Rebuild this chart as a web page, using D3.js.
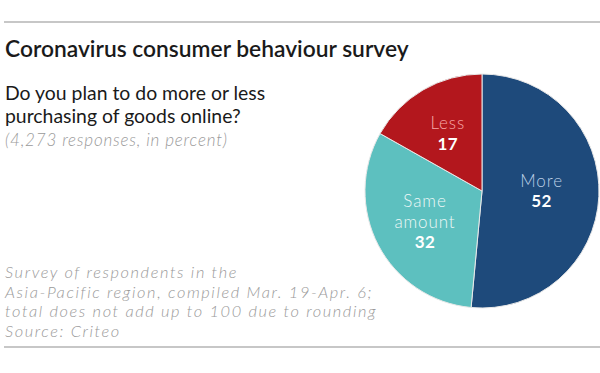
<!DOCTYPE html>
<html>
<head>
<meta charset="utf-8">
<script src="https://cdn.jsdelivr.net/npm/d3@7"></script>
<style>
  body { margin: 0; background: #fff; }
  svg text { font-family: Lato, "Noto Sans", sans-serif; }
</style>
</head>
<body>
<div id="chart"></div>
<script>
// answers and their share (percent, total 101 due to rounding)
var categories = ["More", "Same amount", "Less"];
var values = [52, 32, 17];
var sliceColors = ["#1e4a7b", "#5dc0bf", "#b3171d"];
var nameColors = ["#bccfe6", "#eef8f7", "#f7a9a9"];

var title = "Coronavirus consumer behaviour survey";
var question = ["Do you plan to do more or less", "purchasing of goods online?"];
var note = "(4,273 responses, in percent)";
var footnote = [
    "Survey of respondents in the",
    "Asia-Pacific region, compiled Mar. 19-Apr. 6;",
    "total does not add up to 100 due to rounding",
    "Source: Criteo"
];

var width = 600, height = 373;

var svg = d3.select("#chart").append("svg")
    .attr("width", width)
    .attr("height", height);

// rules top and bottom
svg.append("line")
    .attr("x1", 4).attr("x2", width)
    .attr("y1", 22).attr("y2", 22)
    .attr("stroke", "#b5b5b5").attr("stroke-width", 1.5);

svg.append("line")
    .attr("x1", 4).attr("x2", width)
    .attr("y1", 347).attr("y2", 347)
    .attr("stroke", "#b5b5b5").attr("stroke-width", 1.5);

// headings
svg.append("text")
    .attr("x", 5).attr("y", 57)
    .style("font-size", "22.8px")
    .style("font-weight", 600)
    .attr("fill", "#1a1a1a")
    .text(title);

svg.selectAll(".question")
    .data(question)
    .enter()
    .append("text")
    .attr("class", "question")
    .attr("x", 5)
    .attr("y", function(d, i){ return 100 + i*23; })
    .style("font-size", "19.4px")
    .attr("fill", "#1a1a1a")
    .text(function(d){ return d; });

svg.append("text")
    .attr("x", 5).attr("y", 146)
    .style("font-size", "17px")
    .style("font-style", "italic")
    .style("font-weight", 300)
    .style("letter-spacing", "0.8px")
    .attr("fill", "#9a9a9a")
    .text(note);

svg.selectAll(".foot")
    .data(footnote)
    .enter()
    .append("text")
    .attr("class", "foot")
    .attr("x", 5)
    .attr("y", function(d, i){ return 278 + i*19.7; })
    .style("font-size", "16.4px")
    .style("font-style", "italic")
    .style("font-weight", 300)
    .style("letter-spacing", "1.6px")
    .attr("fill", "#9a9a9a")
    .text(function(d){ return d; });

// pie
var cx = 482, cy = 191, radius = 117;

var pie = d3.pie().sort(null);
var arc = d3.arc().innerRadius(0).outerRadius(radius);

var g = svg.append("g")
    .attr("transform", "translate(" + cx + "," + cy + ")");

g.selectAll("path")
    .data(pie(values))
    .enter()
    .append("path")
    .attr("d", arc)
    .attr("fill", function(d, i){ return sliceColors[i]; })
    .attr("stroke", "#e8e8e8")
    .attr("stroke-width", 1);

// label positions along a mid radius per slice
var labelRadius = [0.51, 0.55, 0.58];
var lineH = 20.5;

var labels = g.selectAll(".lab")
    .data(pie(values))
    .enter()
    .append("g")
    .attr("class", "lab")
    .attr("transform", function(d, i){
        var a = (d.startAngle + d.endAngle)/2;
        var r = radius*labelRadius[i];
        var lift = i == 0 ? -4 : 0;
        return "translate(" + (Math.sin(a)*r) + "," + (-Math.cos(a)*r + lift) + ")";
    });

labels.each(function(d, i){
    var t = d3.select(this);
    var words = categories[i] == "Same amount" ? ["Same", "amount"] : [categories[i]];
    var n = words.length + 1;
    var y0 = -(n - 1)*lineH/2 + 7;
    words.forEach(function(w, k){
        t.append("text")
            .attr("text-anchor", "middle")
            .attr("y", y0 + k*lineH)
            .style("font-size", "17px")
            .style("font-weight", 300)
            .style("letter-spacing", "0.9px")
            .attr("fill", nameColors[i])
            .text(w);
    });
    t.append("text")
        .attr("text-anchor", "middle")
        .attr("y", y0 + words.length*lineH)
        .style("font-size", "17px")
        .style("font-weight", 700)
        .style("letter-spacing", "0.5px")
        .attr("fill", "#ffffff")
        .text(values[i]);
});
</script>
</body>
</html>
